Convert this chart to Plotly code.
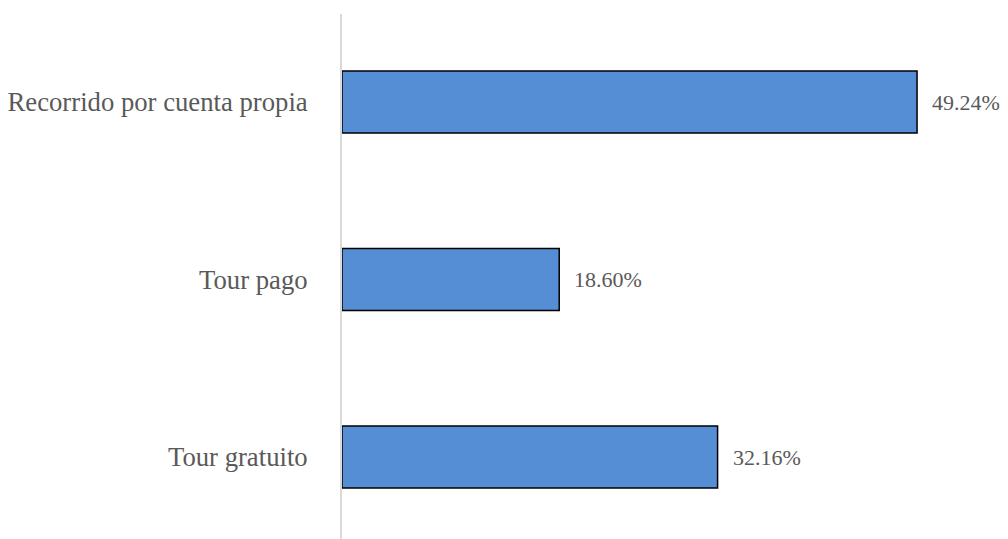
import plotly.graph_objects as go

categories = ["Tour gratuito", "Tour pago", "Recorrido por cuenta propia"]
values = [32.16, 18.60, 49.24]
labels = ["32.16%", "18.60%", "49.24%"]

FONT = "Liberation Serif, Times New Roman, serif"
TEXT_COLOR = "#595959"

fig = go.Figure()
fig.add_trace(go.Bar(
    y=categories,
    x=values,
    orientation="h",
    width=0.35,
    marker=dict(color="#558ED5", line=dict(color="#000000", width=1.5)),
    hoverinfo="skip",
))

for c, v, t in zip(categories, values, labels):
    fig.add_annotation(x=v, y=c, text=t, showarrow=False, xanchor="left",
                       xshift=13, font=dict(family=FONT, size=22, color=TEXT_COLOR))

fig.update_layout(
    width=1008, height=539,
    margin=dict(l=331, r=20, t=6, b=0),
    plot_bgcolor="white", paper_bgcolor="white",
    showlegend=False,
    font=dict(family=FONT, size=22, color=TEXT_COLOR),
    xaxis=dict(range=[0, 56], visible=False, showgrid=False, zeroline=False),
    yaxis=dict(range=[-0.507, 2.496], showgrid=False, zeroline=False,
               showline=True, linecolor="#D9D9D9", linewidth=2,
               ticks="", ticklabelstandoff=27,
               tickfont=dict(family=FONT, size=26.7, color=TEXT_COLOR)),
)

fig.write_html("out.html")
